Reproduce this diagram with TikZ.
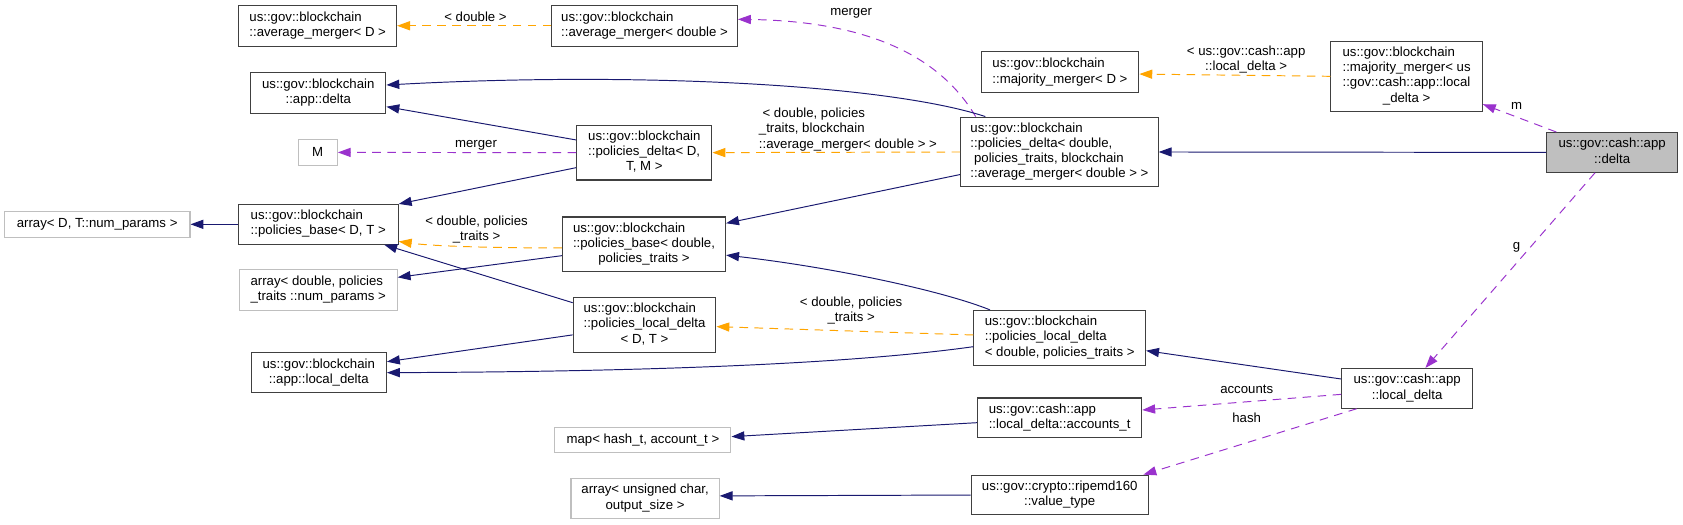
\documentclass[tikz,border=0pt]{standalone}
\usepackage{fontspec}
\setmainfont{Liberation Sans}
\usetikzlibrary{arrows.meta}
\definecolor{navy}{HTML}{191970}
\definecolor{orng}{HTML}{FFA500}
\definecolor{purp}{HTML}{9A32CD}
\definecolor{gryb}{HTML}{BFBFBF}
\definecolor{bord}{HTML}{404040}
\newcommand{\mlab}[2]{\begin{tabular}{@{}l@{}}#1\\\multicolumn{1}{@{}c@{}}{#2}\end{tabular}}
\begin{document}
\begin{tikzpicture}[x=1pt,y=-1pt,
  every node/.style={font=\fontsize{12.3}{14.2}\selectfont, inner sep=0pt},
  cls/.style={draw=bord, line width=1pt, rectangle, fill=white},
  ext/.style={draw=gryb, line width=1pt, rectangle, fill=white},
  cur/.style={draw=bord, line width=1pt, rectangle, fill=gryb},
  tip/.style={-{Triangle[length=12pt,width=8.5pt]}},
  inh/.style={draw=navy, line width=0.9pt, tip},
  tpl/.style={draw=orng, line width=0.9pt, dash pattern=on 8pt off 6pt, tip},
  usg/.style={draw=purp, line width=0.9pt, dash pattern=on 8pt off 6pt, tip},
  lab/.style={inner sep=0pt}
]
\useasboundingbox[fill=white] (0,0) rectangle (1568,489);

% nodes
\node[cls,minimum width=147pt,minimum height=38pt] (avgD) at (296,24) {\mlab{us::gov::blockchain}{::average\_merger< D >}};
\node[cls,minimum width=173pt,minimum height=38pt] (avgDbl) at (600.5,24) {\mlab{us::gov::blockchain}{::average\_merger< double >}};
\node[cls,minimum width=126pt,minimum height=38pt] (appDelta) at (296.5,86.5) {\mlab{us::gov::blockchain}{::app::delta}};
\node[ext,minimum width=36.5pt,minimum height=24pt] (M) at (296,142) {M};
\node[cls,minimum width=126pt,minimum height=51pt] (pdDTM) at (600.3,142.2) {\mlab{us::gov::blockchain\\::policies\_delta< D,}{T, M >}};
\node[cls,minimum width=184pt,minimum height=65pt] (pdDbl) at (987,141.6) {\mlab{us::gov::blockchain\\::policies\_delta< double,\\\ policies\_traits, blockchain}{::average\_merger< double > >}};
\node[cls,minimum width=147pt,minimum height=38pt] (majD) at (987.5,67.4) {\mlab{us::gov::blockchain}{::majority\_merger< D >}};
\node[cls,minimum width=141pt,minimum height=65pt] (majLD) at (1310.5,71.1) {\mlab{us::gov::blockchain\\::majority\_merger< us\\::gov::cash::app::local}{\_delta >}};
\node[cur,minimum width=122pt,minimum height=37pt] (cashDelta) at (1502,142) {\mlab{us::gov::cash::app}{::delta}};
\node[ext,minimum width=173pt,minimum height=24pt] (arrDT) at (90.5,209) {array< D, T::num\_params >};
\node[cls,minimum width=149pt,minimum height=37pt] (pbDT) at (296.5,209) {\mlab{us::gov::blockchain}{::policies\_base< D, T >}};
\node[ext,minimum width=147pt,minimum height=38pt] (arrDbl) at (296.5,270) {\mlab{array< double, policies}{\_traits ::num\_params >}};
\node[cls,minimum width=126pt,minimum height=37pt] (appLD) at (297,347.2) {\mlab{us::gov::blockchain}{::app::local\_delta}};
\node[cls,minimum width=152pt,minimum height=51pt] (pbDbl) at (600,227.7) {\mlab{us::gov::blockchain\\::policies\_base< double,}{policies\_traits >}};
\node[cls,minimum width=133pt,minimum height=51pt] (pldDT) at (600.5,302.6) {\mlab{us::gov::blockchain\\::policies\_local\_delta}{< D, T >}};
\node[cls,minimum width=160pt,minimum height=51pt] (pldDbl) at (987.3,314.7) {\mlab{us::gov::blockchain\\::policies\_local\_delta}{< double, policies\_traits >}};
\node[cls,minimum width=122pt,minimum height=37pt] (cashLD) at (1311,361.8) {\mlab{us::gov::cash::app}{::local\_delta}};
\node[cls,minimum width=153pt,minimum height=37pt] (acct) at (987.2,389.3) {\mlab{us::gov::cash::app}{::local\_delta::accounts\_t}};
\node[ext,minimum width=164pt,minimum height=24pt] (map) at (599,410) {map< hash\_t, account\_t >};
\node[cls,minimum width=165pt,minimum height=37pt] (ripe) at (987.3,461.2) {\mlab{us::gov::crypto::ripemd160}{::value\_type}};
\node[ext,minimum width=138pt,minimum height=37pt] (arrUC) at (601,464.5) {\mlab{array< unsigned char,}{output\_size >}};

% edges
\draw[tpl] (avgDbl.west) -- (avgD.east);
\node[lab] (l1) at (443,16) {< double >};

\draw[usg] ([xshift=-78pt]pdDbl.north) .. controls +(-29,-49) and +(133,2) .. ([yshift=6pt]avgDbl.east);
\node[lab] (l2) at (793,12) {merger};

\draw[inh] ([xshift=-69pt]pdDbl.north) .. controls +(-88,-29) and +(241,-13) .. ([yshift=7.3pt]appDelta.east);

\draw[tpl] (pdDbl.west) -- (pdDTM.east);
\node[lab] (l4) at (790,121) {\mlab{\ < double, policies\\\_traits, blockchain}{::average\_merger< double > >}};

\draw[inh] ([yshift=11.8pt]pdDTM.west) -- ([yshift=-12.9pt]appDelta.east);
\draw[usg] (pdDTM.west) -- (M.east);
\node[lab] (l6) at (443.5,135) {merger};
\draw[inh] ([yshift=-14pt]pdDTM.west) -- (pbDT.north east);
\draw[inh] (pbDT.west) -- (arrDT.east);

\draw[tpl] ([yshift=-3.3pt]pbDbl.west) .. controls +(-74,0) and +(29,4) .. ([yshift=-16pt]pbDT.east);
\node[lab] (l9) at (444,214) {\mlab{< double, policies}{\_traits >}};

\draw[inh] ([yshift=-10.5pt]pbDbl.west) -- ([yshift=11.6pt]arrDbl.east);
\draw[inh] ([yshift=20.6pt]pldDT.west) -- ([xshift=61.5pt]pbDT.south);
\draw[inh] ([yshift=-9.4pt]pldDT.west) -- ([yshift=10.2pt]appLD.east);
\draw[inh] ([yshift=-21pt]pdDbl.west) -- ([yshift=19.7pt]pbDbl.east);
\draw[inh] ([xshift=-65pt]pldDbl.north) .. controls +(-42,-17) and +(104,12) .. ([yshift=-10pt]pbDbl.east);

\draw[tpl] ([yshift=2.6pt]pldDbl.west) -- ([yshift=-1.7pt]pldDT.east);
\node[lab] (l15) at (793,290) {\mlab{< double, policies}{\_traits >}};

\draw[inh] ([yshift=-8.3pt]pldDbl.west) .. controls +(-107,15) and +(260,-1) .. (appLD.east);
\draw[inh] (cashDelta.west) -- (pdDbl.east);

\draw[usg] ([xshift=-52pt]cashDelta.north) -- ([yshift=-26pt]majLD.east);
\node[lab] (l18) at (1413,99) {m};

\draw[tpl] (majLD.west) -- ([yshift=-1.6pt]majD.east);
\node[lab] (l19) at (1161,56) {\mlab{< us::gov::cash::app}{::local\_delta >}};

\draw[usg] ([xshift=-16pt]cashDelta.south) -- ([xshift=17pt]cashLD.north);
\node[lab] (l20) at (1413,230) {g};

\draw[inh] ([yshift=8.7pt]cashLD.west) -- ([yshift=-12pt]pldDbl.east);
\draw[usg] ([yshift=-5.6pt]cashLD.west) -- ([yshift=7.3pt]acct.east);
\node[lab] (l22) at (1161.5,362.4) {accounts};
\draw[usg] ([xshift=-47pt]cashLD.south) -- ([xshift=-5pt]ripe.north east);
\node[lab] (l23) at (1161.5,389.2) {hash};

\draw[inh] ([yshift=-4.5pt]acct.west) -- ([yshift=3.2pt]map.east);
\draw[inh] (ripe.west) -- ([yshift=2.5pt]arrUC.east);
\end{tikzpicture}
\end{document}
